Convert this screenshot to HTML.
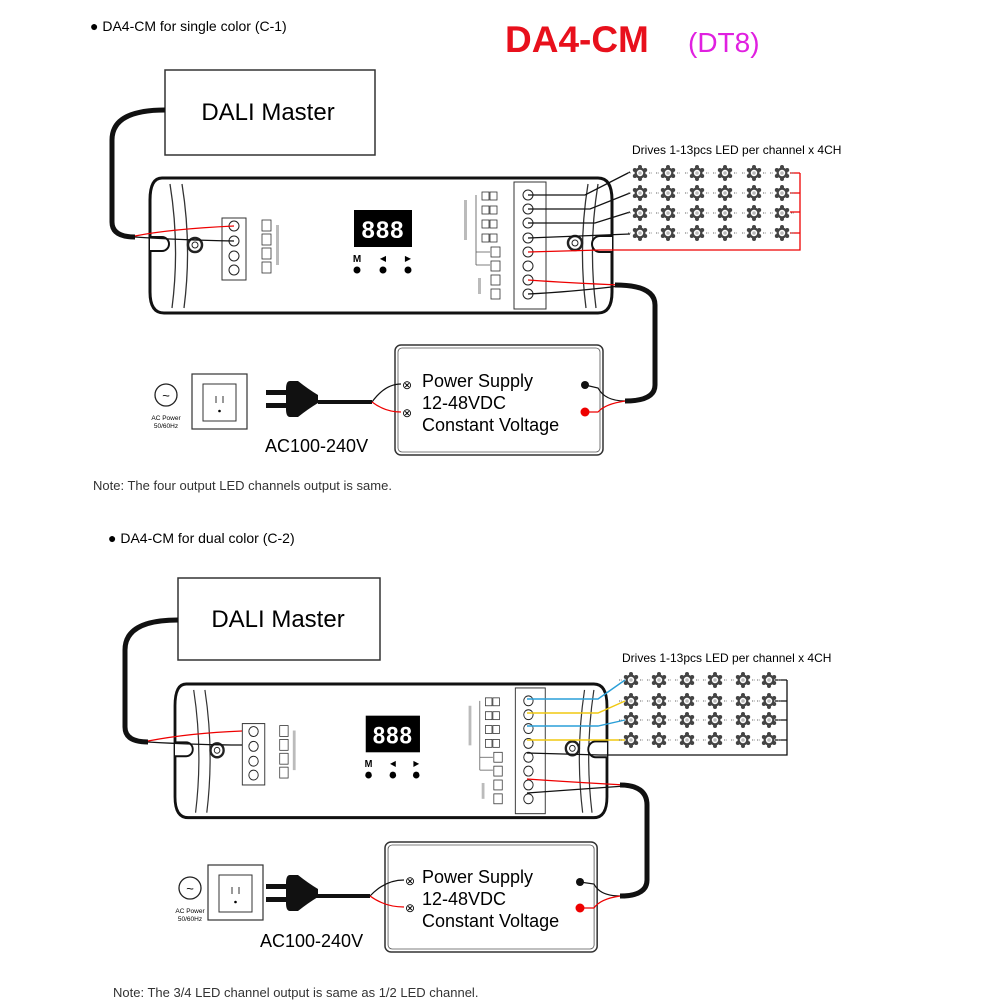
<!DOCTYPE html>
<html><head><meta charset="utf-8"><style>
html,body{margin:0;padding:0;background:#fff}
svg{display:block}
text{font-family:"Liberation Sans",sans-serif}
</style></head><body>
<svg width="1000" height="1000" viewBox="0 0 1000 1000" xmlns="http://www.w3.org/2000/svg">
<defs>
<g id="led">
<path d="M-12,0h3M9,0h3" stroke="#666" stroke-width="1" stroke-dasharray="1.2,1.2"/>
<circle r="5.5" fill="#444"/>
<circle cx="0" cy="-6" r="2" fill="#444"/><circle cx="5.2" cy="-3" r="2" fill="#444"/><circle cx="5.2" cy="3" r="2" fill="#444"/>
<circle cx="0" cy="6" r="2" fill="#444"/><circle cx="-5.2" cy="3" r="2" fill="#444"/><circle cx="-5.2" cy="-3" r="2" fill="#444"/>
<circle r="3.2" fill="#fff"/><circle r="1.8" fill="#bbb"/>
</g>
<g id="ctrl">
<path d="M162,178 L598,178 Q612,178 612,200 L612,292 Q612,313 598,313 L164,313 Q150,313 150,292 L150,200 Q150,178 162,178 Z" fill="#fff" stroke="#111" stroke-width="3"/>
<path d="M170,184 Q180,246 172,308" fill="none" stroke="#333" stroke-width="1.3"/>
<path d="M182,184 Q192,246 184,308" fill="none" stroke="#333" stroke-width="1.3"/>
<path d="M588,184 Q578,246 586,308" fill="none" stroke="#333" stroke-width="1.3"/>
<path d="M598,184 Q588,246 596,308" fill="none" stroke="#333" stroke-width="1.3"/>
<path d="M150,237 h12 a7,7 0 0 1 0,14 h-12" fill="#fff" stroke="#111" stroke-width="2"/>
<path d="M612,236 h-12 a8,8 0 0 0 0,16 h12" fill="#fff" stroke="#111" stroke-width="2"/>
<circle cx="195" cy="245" r="7" fill="#fff" stroke="#222" stroke-width="2.5"/><circle cx="195" cy="245" r="3" fill="none" stroke="#222"/>
<circle cx="575" cy="243" r="7" fill="#fff" stroke="#222" stroke-width="2.5"/><circle cx="575" cy="243" r="3" fill="none" stroke="#222"/>
<rect x="222" y="218" width="24" height="62" fill="#fff" stroke="#333"/>
<circle cx="234" cy="226" r="5" fill="#fff" stroke="#222"/><circle cx="234" cy="241" r="5" fill="#fff" stroke="#222"/>
<circle cx="234" cy="256" r="5" fill="#fff" stroke="#222"/><circle cx="234" cy="270" r="5" fill="#fff" stroke="#222"/>
<g fill="#fff" stroke="#333" stroke-width="0.8"><rect x="262" y="220" width="9" height="11"/><rect x="262" y="234" width="9" height="11"/><rect x="262" y="248" width="9" height="11"/><rect x="262" y="262" width="9" height="11"/></g>
<rect x="276" y="225" width="3" height="40" fill="#bbb"/>
<rect x="354" y="210" width="58" height="37" fill="#000"/>
<text x="383" y="238" font-size="24" fill="#fff" text-anchor="middle" font-weight="bold" letter-spacing="1">888</text>
<text x="357" y="262" font-size="10" font-weight="bold" text-anchor="middle">M</text>
<text x="383" y="261" font-size="8" text-anchor="middle">◀</text>
<text x="408" y="261" font-size="8" text-anchor="middle">▶</text>
<circle cx="357" cy="270" r="3.5"/><circle cx="383" cy="270" r="3.5"/><circle cx="408" cy="270" r="3.5"/>
<rect x="464" y="200" width="3" height="40" fill="#bbb"/>
<g fill="#fff" stroke="#333" stroke-width="0.8"><rect x="482" y="192" width="7" height="8"/><rect x="482" y="206" width="7" height="8"/><rect x="482" y="220" width="7" height="8"/><rect x="482" y="234" width="7" height="8"/>
<rect x="490" y="192" width="7" height="8"/><rect x="490" y="206" width="7" height="8"/><rect x="490" y="220" width="7" height="8"/><rect x="490" y="234" width="7" height="8"/>
<rect x="491" y="247" width="9" height="10"/><rect x="491" y="261" width="9" height="10"/><rect x="491" y="275" width="9" height="10"/><rect x="491" y="289" width="9" height="10"/></g>
<path d="M476,195 V265 M476,252 H490 M476,265 H490" fill="none" stroke="#555" stroke-width="0.8"/>
<rect x="478" y="278" width="3" height="16" fill="#bbb"/>
<rect x="514" y="182" width="32" height="127" fill="#fff" stroke="#333"/>
<g fill="#fff" stroke="#222"><circle cx="528" cy="195" r="5"/><circle cx="528" cy="209" r="5"/><circle cx="528" cy="223" r="5"/><circle cx="528" cy="238" r="5"/><circle cx="528" cy="252" r="5"/><circle cx="528" cy="266" r="5"/><circle cx="528" cy="280" r="5"/><circle cx="528" cy="294" r="5"/></g>
</g>
<g id="psbox">
<rect x="0" y="0" width="208" height="110" rx="6" fill="#fff" stroke="#333" stroke-width="1.5"/>
<rect x="3" y="3" width="202" height="104" rx="4" fill="none" stroke="#555" stroke-width="0.8"/>
</g>
<g id="outlet">
<rect x="0" y="0" width="55" height="55" fill="#fff" stroke="#333" stroke-width="1.2"/>
<rect x="11" y="10" width="33" height="37" fill="#fff" stroke="#333"/>
<path d="M24,22v7M31,22v7" stroke="#333"/><circle cx="27.5" cy="37" r="1.3"/>
</g>
<g id="plug">
<path d="M0,2 q-4,0 -4,8 v20 q0,8 4,8 h8 q10,-8 20,-14 v-8 q-10,-6 -20,-14 z" fill="#111"/>
<rect x="-24" y="11" width="20" height="5" fill="#111"/><rect x="-24" y="24" width="20" height="5" fill="#111"/>
</g>
</defs>

<!-- ===== TOP ===== -->
<text x="90" y="31" font-size="14">● DA4-CM for single color (C-1)</text>
<text x="505" y="52" font-size="37" font-weight="bold" fill="#e8101c">DA4-CM</text>
<text x="688" y="52" font-size="28" fill="#e020e0">(DT8)</text>
<rect x="165" y="70" width="210" height="85" fill="#fff" stroke="#333" stroke-width="1.5"/>
<text x="268" y="120" font-size="24" text-anchor="middle">DALI Master</text>

<use href="#ctrl"/>
<path d="M165,110 Q112,110 112,140 L112,222 Q112,237 135,237" fill="none" stroke="#111" stroke-width="5"/>
<path d="M135,237 Q180,240 234,241" fill="none" stroke="#111" stroke-width="1.2"/>
<path d="M135,236 Q170,229 234,226" fill="none" stroke="#e00" stroke-width="1.2"/>
<text x="632" y="154" font-size="12">Drives 1-13pcs LED per channel x 4CH</text>
<g fill="none" stroke="#111" stroke-width="1.3">
<path d="M528,195 L585,195 L630,172"/><path d="M528,209 L590,209 L630,193"/><path d="M528,223 L595,223 L630,212"/><path d="M528,238 L630,234"/>
</g>
<path d="M528,252 L600,250 L800,250 L800,173 M790,173H800M790,193H800M790,212H800M790,233H800" fill="none" stroke="#e00" stroke-width="1.3"/>
<g>
<use href="#led" x="640" y="173"/><use href="#led" x="668" y="173"/><use href="#led" x="697" y="173"/><use href="#led" x="725" y="173"/><use href="#led" x="754" y="173"/><use href="#led" x="782" y="173"/>
<use href="#led" x="640" y="193"/><use href="#led" x="668" y="193"/><use href="#led" x="697" y="193"/><use href="#led" x="725" y="193"/><use href="#led" x="754" y="193"/><use href="#led" x="782" y="193"/>
<use href="#led" x="640" y="213"/><use href="#led" x="668" y="213"/><use href="#led" x="697" y="213"/><use href="#led" x="725" y="213"/><use href="#led" x="754" y="213"/><use href="#led" x="782" y="213"/>
<use href="#led" x="640" y="233"/><use href="#led" x="668" y="233"/><use href="#led" x="697" y="233"/><use href="#led" x="725" y="233"/><use href="#led" x="754" y="233"/><use href="#led" x="782" y="233"/>
</g>
<path d="M528,280 Q570,283 620,285" fill="none" stroke="#e00" stroke-width="1.3"/>
<path d="M528,294 Q570,292 620,286" fill="none" stroke="#111" stroke-width="1.3"/>
<path d="M615,285 Q655,285 655,305 L655,385 Q655,401 625,401" fill="none" stroke="#111" stroke-width="5"/>
<use href="#psbox" x="395" y="345"/>
<text x="422" y="387" font-size="18">Power Supply</text>
<text x="422" y="409" font-size="18">12-48VDC</text>
<text x="422" y="431" font-size="18">Constant Voltage</text>
<path d="M625,401 Q605,401 598,388 L585,385" fill="none" stroke="#111" stroke-width="1.2"/>
<path d="M625,401 Q605,404 598,412 L585,412" fill="none" stroke="#e00" stroke-width="1.2"/>
<circle cx="585" cy="385" r="4" fill="#111"/><circle cx="585" cy="412" r="4.5" fill="#e00"/>
<text x="407" y="389" font-size="12" text-anchor="middle">⊗</text><text x="407" y="417" font-size="12" text-anchor="middle">⊗</text>
<path d="M318,402 L372,402" stroke="#111" stroke-width="4"/>
<path d="M372,402 Q385,384 401,384" fill="none" stroke="#111" stroke-width="1.2"/>
<path d="M372,402 Q385,412 401,412" fill="none" stroke="#e00" stroke-width="1.2"/>
<use href="#plug" x="290" y="379"/>
<use href="#outlet" x="192" y="374"/>
<circle cx="166" cy="395" r="11" fill="none" stroke="#222" stroke-width="1.3"/>
<text x="166" y="400" font-size="13" text-anchor="middle">~</text>
<text x="166" y="420" font-size="6.5" text-anchor="middle">AC Power</text>
<text x="166" y="428" font-size="6.5" text-anchor="middle">50/60Hz</text>
<text x="265" y="452" font-size="18">AC100-240V</text>
<text x="93" y="490" font-size="13" fill="#333">Note: The four output LED channels output is same.</text>

<!-- ===== BOTTOM ===== -->
<text x="108" y="543" font-size="14">● DA4-CM for dual color (C-2)</text>
<rect x="178" y="578" width="202" height="82" fill="#fff" stroke="#333" stroke-width="1.5"/>
<text x="278" y="627" font-size="24" text-anchor="middle">DALI Master</text>
<use href="#ctrl" transform="translate(175,683) scale(0.935,0.99) translate(-150,-177)"/>
<path d="M178,620 Q125,620 125,650 L125,727 Q125,742 148,742" fill="none" stroke="#111" stroke-width="5"/>
<path d="M148,742 Q200,745 242,745" fill="none" stroke="#111" stroke-width="1.2"/>
<path d="M148,741 Q190,733 242,731" fill="none" stroke="#e00" stroke-width="1.2"/>
<text x="622" y="662" font-size="12">Drives 1-13pcs LED per channel x 4CH</text>
<g fill="none" stroke-width="1.4">
<path d="M527,699 L598,699 L625,680" stroke="#2a9fd8"/>
<path d="M527,713 L598,713 L625,701" stroke="#f0c810"/>
<path d="M527,726 L598,726 L625,720" stroke="#2a9fd8"/>
<path d="M527,740 L625,740" stroke="#f0c810"/>
</g>
<path d="M527,753 L600,755 L787,755 L787,680 M775,680H787M775,701H787M775,720H787M775,740H787" fill="none" stroke="#111" stroke-width="1.3"/>
<g>
<use href="#led" x="631" y="680"/><use href="#led" x="659" y="680"/><use href="#led" x="687" y="680"/><use href="#led" x="715" y="680"/><use href="#led" x="743" y="680"/><use href="#led" x="769" y="680"/>
<use href="#led" x="631" y="701"/><use href="#led" x="659" y="701"/><use href="#led" x="687" y="701"/><use href="#led" x="715" y="701"/><use href="#led" x="743" y="701"/><use href="#led" x="769" y="701"/>
<use href="#led" x="631" y="720"/><use href="#led" x="659" y="720"/><use href="#led" x="687" y="720"/><use href="#led" x="715" y="720"/><use href="#led" x="743" y="720"/><use href="#led" x="769" y="720"/>
<use href="#led" x="631" y="740"/><use href="#led" x="659" y="740"/><use href="#led" x="687" y="740"/><use href="#led" x="715" y="740"/><use href="#led" x="743" y="740"/><use href="#led" x="769" y="740"/>
</g>
<path d="M527,779 Q570,782 625,785" fill="none" stroke="#e00" stroke-width="1.3"/>
<path d="M527,793 Q570,790 625,786" fill="none" stroke="#111" stroke-width="1.3"/>
<path d="M620,785 Q647,785 647,805 L647,880 Q647,896 620,896" fill="none" stroke="#111" stroke-width="5"/>
<use href="#psbox" transform="translate(385,842) scale(1.02,1)"/>
<text x="422" y="883" font-size="18">Power Supply</text>
<text x="422" y="905" font-size="18">12-48VDC</text>
<text x="422" y="927" font-size="18">Constant Voltage</text>
<path d="M620,896 Q600,896 594,884 L580,882" fill="none" stroke="#111" stroke-width="1.2"/>
<path d="M620,896 Q600,899 594,908 L580,908" fill="none" stroke="#e00" stroke-width="1.2"/>
<circle cx="580" cy="882" r="4" fill="#111"/><circle cx="580" cy="908" r="4.5" fill="#e00"/>
<text x="410" y="885" font-size="12" text-anchor="middle">⊗</text><text x="410" y="912" font-size="12" text-anchor="middle">⊗</text>
<path d="M315,896 L370,896" stroke="#111" stroke-width="4"/>
<path d="M370,896 Q385,880 404,880" fill="none" stroke="#111" stroke-width="1.2"/>
<path d="M370,896 Q385,907 404,907" fill="none" stroke="#e00" stroke-width="1.2"/>
<use href="#plug" x="290" y="873"/>
<use href="#outlet" x="208" y="865"/>
<circle cx="190" cy="888" r="11" fill="none" stroke="#222" stroke-width="1.3"/>
<text x="190" y="893" font-size="13" text-anchor="middle">~</text>
<text x="190" y="913" font-size="6.5" text-anchor="middle">AC Power</text>
<text x="190" y="921" font-size="6.5" text-anchor="middle">50/60Hz</text>
<text x="260" y="947" font-size="18">AC100-240V</text>
<text x="113" y="997" font-size="13" fill="#333">Note: The 3/4 LED channel output is same as 1/2 LED channel.</text>
</svg>
</body></html>
